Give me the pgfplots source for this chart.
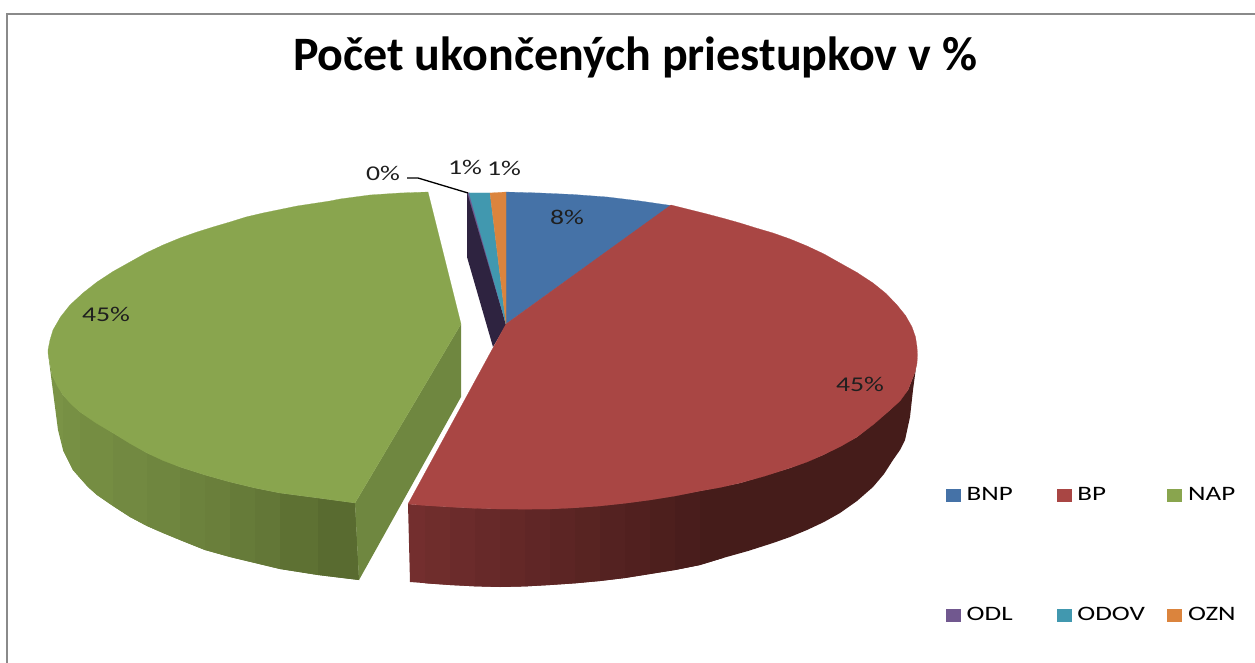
\documentclass[border=0pt]{standalone}
\usepackage{pgfplots}
\pgfplotsset{compat=1.18}
\usepackage{fontspec}
\setmainfont{Carlito}
\newfontfamily\lab[FakeStretch=1.32]{Carlito}
\definecolor{cB}{HTML}{4572A7}
\definecolor{cR}{HTML}{A94644}
\definecolor{cG}{HTML}{89A54E}
\definecolor{cP}{HTML}{71588F}
\definecolor{cT}{HTML}{4198AF}
\definecolor{cO}{HTML}{DB843D}
\definecolor{rs}{HTML}{732E2E}
\definecolor{re}{HTML}{451C1A}
\definecolor{gs}{HTML}{7A9346}
\definecolor{ge}{HTML}{596B30}
\definecolor{gi}{HTML}{6F8740}
\definecolor{nv}{HTML}{2E2340}
\definecolor{fr}{HTML}{8A8A8A}
\pgfplotsset{side/.style={fill=#1,draw=none,forget plot},
 face/.style={fill=#1,draw=#1,line width=0.2pt,area legend,
  legend image code/.code={\fill[#1] (0pt,-6pt) rectangle (14pt,6pt);}}}
\newcommand{\lgd}[1]{\hspace{4.5pt}\makebox[88pt][l]{#1}}
\newcommand{\lgl}[1]{\hspace{4.5pt}\makebox[50pt][l]{#1}}
\begin{document}
\begin{tikzpicture}
\begin{axis}[scale only axis,width=1255pt,height=663pt,xmin=0,xmax=1255,ymin=0,ymax=663,y dir=reverse,
 axis lines=none,clip=true,
 legend columns=3,
 legend style={at={(axis cs:946,495)},anchor=west,yshift=-60pt,draw=none,fill=none,inner sep=0pt,outer sep=0pt,
  font=\lab\fontsize{20.5}{21}\selectfont,row sep=101pt,
  /tikz/every even column/.append style={column sep=0pt}},
 legend cell align=left]
% page corners
\addplot[draw=none,forget plot] coordinates {(0,0)(1255,663)};
% frame
\addplot[fr,line width=2pt,forget plot] coordinates {(7,663) (7,14) (1255,14)};
% red side gradient strips, left to right, each running under the next
\addplot[side={rs}] coordinates {(408,504)(450,507)(450,585)(410,582)} --cycle;
\addplot[side={rs!92!re}] coordinates {(425,505.5)(475,508.3)(475,586.3)(450,585)(425,583.3)} --cycle;
\addplot[side={rs!83!re}] coordinates {(450,507)(500,509)(500,587)(475,586.3)(450,585)} --cycle;
\addplot[side={rs!75!re}] coordinates {(475,508.3)(525,509.2)(525,586.4)(500,587)(475,586.3)} --cycle;
\addplot[side={rs!67!re}] coordinates {(500,509)(550,509)(550,585)(525,586.4)(500,587)} --cycle;
\addplot[side={rs!58!re}] coordinates {(525,509.2)(575,507.8)(575,583.3)(550,585)(525,586.4)} --cycle;
\addplot[side={rs!50!re}] coordinates {(550,509)(600,506)(600,581)(575,583.3)(550,585)} --cycle;
\addplot[side={rs!42!re}] coordinates {(575,507.8)(625,503.3)(625,578)(600,581)(575,583.3)} --cycle;
\addplot[side={rs!33!re}] coordinates {(600,506)(650,500)(650,574)(625,578)(600,581)} --cycle;
\addplot[side={rs!25!re}] coordinates {(625,503.3)(675,496)(675,570)(650,574)(625,578)} --cycle;
\addplot[side={rs!17!re}] coordinates {(650,500)(700,491)(700,565)(675,570)(650,574)} --cycle;
\addplot[side={rs!8!re}] coordinates {(675,496)(700,491)(725,487)(723,558)(700,565)(675,570)} --cycle;
\addplot[side=re] coordinates {(700,491)(740,483)(790,468)(823,455)(857,437)(890,410)(908,390)(915,372)(917,360)(913,390)(910,417)(905,440)(900,450)(893,460)(884,474)(873,487)(857,501)(840,513)(824,522)(807,530)(790,537)(773,543)(748,551)(723,558)(700,565)} --cycle;
% green side gradient strips and inner cut face
\addplot[side={gs}] coordinates {(48,353)(52,375)(63,395)(80,412)(80,478)(73,470)(63,450)(58,430)} --cycle;
\addplot[side={gs!92!ge}] coordinates {(63,395)(80,412)(113,433)(113,506)(97,495)(88,487)(80,478)(73,470)(63,450)} --cycle;
\addplot[side={gs!84!ge}] coordinates {(80,412)(113,433)(147,453)(147,526)(130,517)(113,506)(97,495)(88,487)(80,478)} --cycle;
\addplot[side={gs!76!ge}] coordinates {(113,433)(147,453)(180,467)(180,540)(163,533)(147,526)(130,517)(113,506)} --cycle;
\addplot[side={gs!67!ge}] coordinates {(147,453)(180,467)(205,475)(205,550)(180,540)(163,533)(147,526)} --cycle;
\addplot[side={gs!58!ge}] coordinates {(180,467)(205,475)(230,482)(230,557)(205,550)(180,540)} --cycle;
\addplot[side={gs!50!ge}] coordinates {(205,475)(230,482)(255,488)(255,563)(230,557)(205,550)} --cycle;
\addplot[side={gs!40!ge}] coordinates {(230,482)(255,488)(280,493)(280,569)(255,563)(230,557)} --cycle;
\addplot[side={gs!30!ge}] coordinates {(255,488)(280,493)(318,498)(318,575)(280,569)(255,563)} --cycle;
\addplot[side={gs!15!ge}] coordinates {(280,493)(318,498)(355,503)(359,580)(318,575)(280,569)} --cycle;
\addplot[side={ge}] coordinates {(318,498)(355,503)(359,580)(318,575)} --cycle;
\addplot[side=gi] coordinates {(461,324)(355,503)(359,580)(461,397)} --cycle;
% narrow dark cut face
\addplot[side=nv] coordinates {(467,193)(467,257)(493,347)(506,325)(469,193)} --cycle;
% top faces
\addplot[face=cB] coordinates {(506,324)(506,192)(540,193)(573,194.5)(607,197)(640,201)(671,205.5)} --cycle;
\addlegendentry{\lgd{BNP}}
\addplot[face=cR] coordinates {(506,324)(671,205)(689,209.5)(707,214)(724,218.5)(740,223)(756,228)(773,233)(790,239)(807,246)(824,254)(840,263)(857,272.5)(873,283)(886,293.5)(897,305)(905.5,315.5)(912,327)(915.5,337)(917,347)(917.5,355)(917,363)(915,372)(908,390)(900,401)(890,410)(874,424)(857,437)(840.5,446.5)(823,455)(807,462)(790,468)(765,476)(740,483)(720,487.5)(700,491)(675,496)(650,500)(625,503.3)(600,506)(575,507.8)(550,509)(525,509.2)(500,509)(475,508.3)(450,507)(425,505.5)(408,504)} --cycle;
\addlegendentry{\lgd{BP}}
\addplot[face=cG] coordinates {(428,192)(400,193)(370,195)(340,199)(330,201)(297,206)(280,209.5)(263,213)(246,217)(230,222)(213,227)(197,232)(180,238)(163,245)(146,253)(130,262)(113,271.5)(97,282)(83,293)(70,305)(60.5,317)(53,330)(50,340)(48,350)(48,353)(52,375)(57,385.5)(63,395)(71,404)(80,412)(96,423)(113,433)(130,443.5)(147,453)(163,460.5)(180,467)(205,475)(230,482)(255,488)(280,493)(318,498)(355,503)(461,324)} --cycle;
\addlegendentry{\lgl{NAP}}
\addplot[face=cP] coordinates {(467.5,193)(469.5,193)(506,324)} --cycle;
\addlegendentry{\lgd{ODL}}
\addplot[face=cT] coordinates {(469,193)(490,193)(506,324)} --cycle;
\addlegendentry{\lgd{ODOV}}
\addplot[face=cO] coordinates {(490,193)(506,192)(506,324)} --cycle;
\addlegendentry{\lgl{OZN}}
% leader line
\addplot[black,line width=1.3pt,forget plot] coordinates {(407,178)(418,178)(468,193)};
\node[font=\bfseries\fontsize{48}{50}\selectfont,anchor=base] at (axis cs:635,71) {Počet ukončených priestupkov v \%};
\foreach \x/\y/\t in {383/173/0\%,465/167/1\%,504/168/1\%,567/217/8\%,860/384/45\%,106/314/45\%}{
 \edef\tmp{\noexpand\node[text=black!88,font=\noexpand\lab\noexpand\fontsize{21}{23}\noexpand\selectfont] at (axis cs:\x,\y) {\t};}
 \tmp
}
\end{axis}
\end{tikzpicture}
\end{document}
